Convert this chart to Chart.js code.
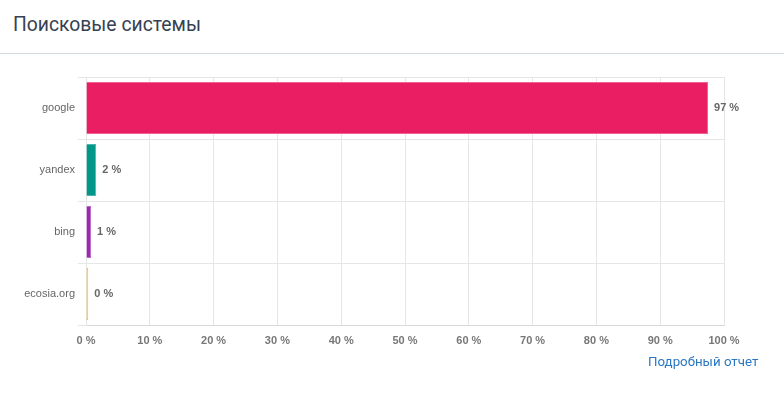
<!DOCTYPE html>
<html><head><meta charset="utf-8">
<script src="https://cdn.jsdelivr.net/npm/chart.js@4"></script>
<style>
html,body{margin:0;padding:0;background:#fff;width:784px;height:398px;overflow:hidden;font-family:Roboto,"Noto Sans",sans-serif;}
#title{position:absolute;left:13px;top:12px;font-size:21px;color:#364152;font-family:Roboto,sans-serif;transform:scaleX(0.92);transform-origin:0 0;white-space:nowrap;}
#sep{position:absolute;left:0;top:53px;width:784px;height:1px;background:#d3dbe3;}
#wrap{position:absolute;left:0;top:60px;width:784px;height:295px;}
#link{position:absolute;left:648px;top:354px;font-size:13.3px;color:#2a78c2;text-decoration:none;}
</style></head>
<body>
<div id="title">Поисковые системы</div>
<div id="sep"></div>
<div id="wrap"><canvas id="c" width="784" height="295"></canvas></div>
<a id="link" href="#">Подробный отчет</a>
<script>
const categories = ["google", "yandex", "bing", "ecosia.org"];
const shares = [97.5, 1.6, 0.8, 0.35];
const shareLabels = ["97 %", "2 %", "1 %", "0 %"];
const barColors = ["#e91e63", "#009688", "#9c27b0", "#ffb74d"];
const barBorders = ["#f06292", "#4db6ac", "#ba68c8", "#ffb74d"];
const xTicks = [0,10,20,30,40,50,60,70,80,90,100];

const FONT = '"Liberation Sans", Arial, Helvetica, sans-serif';

const valueLabels = {
  id: 'valueLabels',
  afterDatasetsDraw(chart) {
    const ctx = chart.ctx;
    const meta = chart.getDatasetMeta(0);
    ctx.save();
    ctx.font = 'bold 11px ' + FONT;
    ctx.fillStyle = '#666';
    ctx.textBaseline = 'middle';
    ctx.textAlign = 'left';
    meta.data.forEach((bar, i) => {
      ctx.fillText(shareLabels[i], bar.x + 6, bar.y);
    });
    ctx.restore();
  }
};

new Chart(document.getElementById('c'), {
  type: 'bar',
  data: {
    labels: categories,
    datasets: [{
      data: shares,
      backgroundColor: barColors,
      borderColor: barBorders,
      borderWidth: 1,
      categoryPercentage: 1,
      barPercentage: 0.84
    }]
  },
  options: {
    indexAxis: 'y',
    responsive: false,
    animation: false,
    layout: { padding: { top: 17, right: 60, left: 0, bottom: 0 } },
    plugins: { legend: { display: false }, tooltip: { enabled: false } },
    scales: {
      x: {
        min: 0, max: 100,
        afterBuildTicks: s => { s.ticks = xTicks.map(v => ({ value: v })); },
        afterFit: s => { s.height = 30; },
        grid: { color: '#e6e6e6', drawTicks: false },
        border: { color: '#d9d9d9' },
        ticks: {
          padding: 9,
          color: '#777',
          font: { size: 11, weight: 'bold', family: FONT },
          callback: v => v + ' %'
        }
      },
      y: {
        afterFit: s => { s.width = 86; },
        grid: { color: '#e6e6e6', tickLength: 8 },
        border: { color: '#e6e6e6' },
        ticks: {
          color: '#666',
          padding: 3,
          font: { size: 11, family: FONT }
        }
      }
    }
  },
  plugins: [valueLabels]
});
</script>
</body></html>
